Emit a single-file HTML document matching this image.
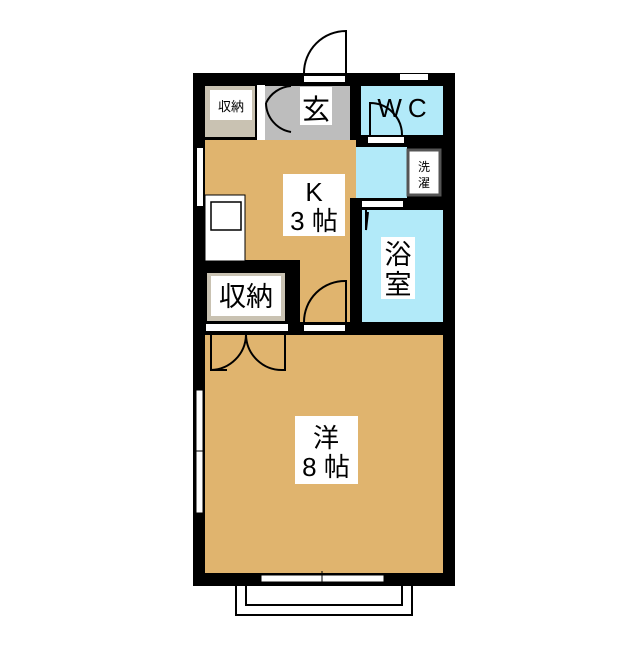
<!DOCTYPE html><html><head><meta charset="utf-8"><style>body{margin:0;background:#fff}</style></head><body>
<svg width="640" height="640" xmlns="http://www.w3.org/2000/svg" font-family="Liberation Sans, Noto Sans CJK JP, sans-serif">
<rect width="640" height="640" fill="#fff"/>
<rect x="236" y="582" width="176" height="33" fill="none" stroke="#000" stroke-width="2"/>
<rect x="246" y="582" width="156" height="23" fill="none" stroke="#000" stroke-width="2"/>
<rect x="193" y="73" width="262" height="513" fill="#000"/>
<rect x="205" y="86" width="50" height="51" fill="#c9c2b2"/>
<rect x="265" y="86" width="85" height="54" fill="#bdbdbd"/>
<rect x="361" y="86" width="82" height="49" fill="#b2eaf9"/>
<rect x="356" y="147" width="51" height="51" fill="#b2eaf9"/>
<rect x="362" y="210" width="81" height="112" fill="#b2eaf9"/>
<rect x="205" y="140" width="145" height="120" fill="#e0b46e"/>
<rect x="300" y="260" width="50" height="62" fill="#e0b46e"/>
<rect x="350" y="140" width="6" height="58" fill="#e0b46e"/>
<rect x="207" y="273" width="78" height="48" fill="#c9c2b2"/>
<rect x="205" y="335" width="238" height="238" fill="#e0b46e"/>
<rect x="205" y="195" width="40" height="66" fill="#fff" stroke="#000" stroke-width="1"/>
<rect x="211" y="202" width="30" height="28" fill="none" stroke="#000" stroke-width="1.5"/>
<rect x="408" y="150" width="32" height="45" fill="#fff" stroke="#555" stroke-width="3"/>
<rect x="304" y="76" width="41" height="6" fill="#fff"/>
<rect x="400" y="74" width="28" height="6" fill="#fff"/>
<rect x="257" y="85" width="8" height="55" fill="#fff"/>
<rect x="368" y="137" width="36" height="6" fill="#fff"/>
<rect x="362" y="201" width="41" height="6" fill="#fff"/>
<rect x="197" y="148" width="6" height="58" fill="#fff"/>
<rect x="206" y="324" width="82" height="7" fill="#fff"/>
<rect x="304" y="325" width="41" height="6" fill="#fff"/>
<rect x="196" y="390" width="7" height="123" fill="#fff" stroke="#000" stroke-width="1"/>
<rect x="261" y="575" width="123" height="7" fill="#fff" stroke="#000" stroke-width="1"/>
<line x1="193" y1="451" x2="205" y2="451" stroke="#000"/>
<line x1="322" y1="571" x2="322" y2="585" stroke="#000"/>
<g fill="none" stroke="#000" stroke-width="2">
<path d="M346 73 V31 A42 42 0 0 0 304 73"/>
<path d="M346 322 V281 A41 41 0 0 0 304 322"/>
<path d="M266 103 A30 30 0 0 1 291 86 M266 103 A30 30 0 0 0 291 132"/>
<path d="M370 135 V103 A32 32 0 0 1 402 135"/>
<path d="M366 210 L366 230 L368 212"/>
<path d="M211 335 V370 H227 M211 370 A36 36 0 0 0 246 335 A36 36 0 0 0 283 370 H285 V335"/>
</g>
<rect x="210" y="90" width="42" height="30" fill="#fff"/>
<text x="231" y="111" font-size="13" text-anchor="middle">収納</text>
<rect x="300" y="87" width="32" height="38" fill="#fff"/>
<text x="316" y="119" font-size="28" text-anchor="middle">玄</text>
<text x="405" y="117" font-size="26" text-anchor="middle" letter-spacing="6">WC</text>
<text x="424" y="171" font-size="12" text-anchor="middle">洗</text>
<text x="424" y="187" font-size="12" text-anchor="middle">濯</text>
<rect x="283" y="174" width="62" height="62" fill="#fff"/>
<text x="314" y="201" font-size="26" text-anchor="middle">K</text>
<text x="314" y="230" font-size="26" text-anchor="middle">3 帖</text>
<rect x="381" y="237" width="34" height="62" fill="#fff"/>
<text x="398" y="264" font-size="27" text-anchor="middle">浴</text>
<text x="398" y="294" font-size="27" text-anchor="middle">室</text>
<rect x="211" y="276" width="70" height="40" fill="#fff"/>
<text x="246" y="306" font-size="27" text-anchor="middle">収納</text>
<rect x="295" y="416" width="63" height="68" fill="#fff"/>
<text x="326" y="447" font-size="26" text-anchor="middle">洋</text>
<text x="326" y="476" font-size="26" text-anchor="middle">8 帖</text>
</svg>
</body></html>
